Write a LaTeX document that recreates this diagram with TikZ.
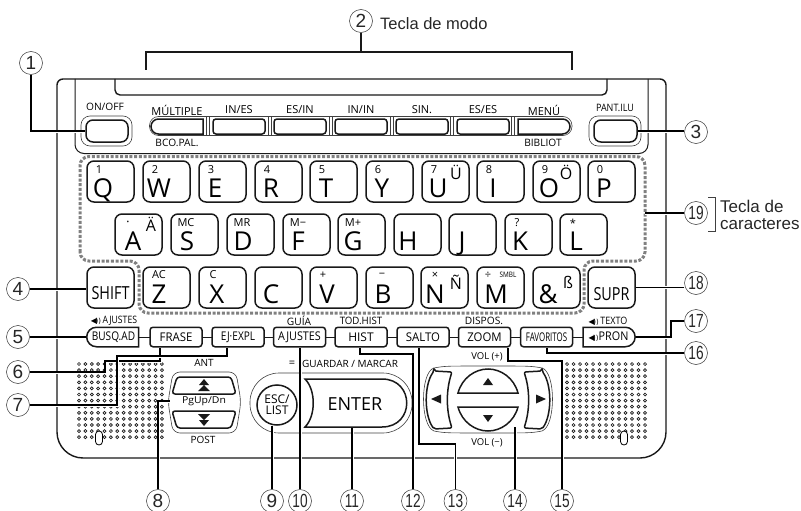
\documentclass[tikz,border=0pt]{standalone}
\usepackage{fontspec}
\usepackage{graphicx}
\setmainfont{Open Sans}
\newfontfamily\labfont{Liberation Sans}
\newfontfamily\spkfont{DejaVu Sans}
\usetikzlibrary{shapes.misc}
\newcommand{\fsz}[1]{\fontsize{#1}{#1}\selectfont}
\newcommand{\nrw}[2]{\scalebox{#1}[1]{#2}}
\newcommand{\spk}{{\spkfont\fsz{8}◀\kern-1.5pt\fsz{7}))}}
\definecolor{inkline}{gray}{0.1}
\definecolor{dashgray}{gray}{0.5}
\tikzset{
  bodyline/.style={line width=1.4pt,draw=inkline},
  thinline/.style={line width=0.6pt,draw=black!75},
  leader/.style={line width=1.3pt,draw=black,preaction={draw=white,line width=3pt}},
  keyshape/.style={line width=1.5pt,draw=inkline,fill=white},
  lkey/.style={keyshape,rounded corners=7pt,minimum width=47pt,minimum height=41pt,inner sep=0pt},
  fkey/.style={keyshape,rounded corners=3pt,minimum width=52pt,minimum height=19.5pt,inner sep=0pt,font=\fsz{12}},
  pillkey/.style={keyshape,rounded rectangle,minimum width=52pt,minimum height=19.5pt,inner sep=0pt,font=\fsz{12}},
  mkey/.style={keyshape,rounded corners=3pt,minimum width=52pt,minimum height=15pt,inner sep=0pt},
  mpill/.style={keyshape,rounded rectangle,minimum width=52pt,minimum height=15pt,inner sep=0pt},
  ltr/.style={anchor=base,inner sep=0pt,font=\fsz{26}},
  sml/.style={inner sep=0pt,font=\fsz{11}},
  xtr/.style={inner sep=0pt,font=\fsz{16}},
  lbl/.style={inner sep=0pt,font=\fsz{11}},
  tinylbl/.style={inner sep=0pt,font=\fsz{10.2}},
  num/.style={circle,draw=black!80,line width=0.5pt,minimum size=23pt,inner sep=0pt,font=\labfont\fsz{19},text=black!85,fill=white},
  dot/.style={line width=0.7pt,draw=inkline},
  slot/.style={fill=white,draw=black,line width=0.8pt,rounded corners=3.5},
  tip/.style={fill=inkline,draw=none},
}
\begin{document}
\begin{tikzpicture}[x=1pt,y=-1pt]
\useasboundingbox (0,0) rectangle (801,511);
%%%%% Body %%%%%
\draw[bodyline,rounded corners=6] (57,110)--(57,79)--(666,79)--(666,100)[rounded corners=26]--(666,458)--(57,458)--cycle;
\draw[bodyline,line width=1pt,rounded corners=9] (75,79)--(75,153.5)--(648,153.5)--(648,79);
\draw[bodyline,rounded corners=5] (115,79)--(115,95)--(607,95)--(607,79);
%%%%% Speakers %%%%%
\foreach \i in {0,...,13}{
\foreach \j in {0,...,12}{
\draw[dot] (79+6.38*\i,364+6.1*\j) circle (1.5);
}
}
\foreach \i in {0,...,12}{
\foreach \j in {0,...,12}{
\draw[dot] (567+6.5*\i,364+6.1*\j) circle (1.5);
}
}
\draw[slot] (95.5,431) rectangle (102.5,445);
\draw[slot] (620.5,431) rectangle (627.5,445);
%%%%% Dashed border %%%%%
\draw[dashgray,line width=3pt,dash pattern=on 3pt off 1.7pt,rounded corners=9] (80,261)--(80,156.5)--(645,156.5)--(645,261)--(584,261)--(584,313)--(139,313)--(139,261)--cycle;
%%%%% Top panel %%%%%
\draw[thinline,rounded corners=9] (149.5,116.5) rectangle (572,135.5);
\foreach \gx in {208,269.5,330.5,391.5,452,513}{
\draw[thinline] (\gx-1.5,117)--(\gx-1.5,135) (\gx+1.5,117)--(\gx+1.5,135);
}
\node[mpill,rounded rectangle east arc=none] (keymult) at (177,126.5) {};
\foreach \kx/\nm in {239/ines,300/esin,361/inin,422/sin,483/eses}{
\node[mkey] (key\nm) at (\kx,126.5) {};
}
\node[mpill,rounded rectangle west arc=none] (keymenu) at (544,126.5) {};
\foreach \kx/\nm/\tx in {177/mult/MÚLTIPLE,239/ines/{IN/ES},300/esin/{ES/IN},361/inin/{IN/IN},422/sin/SIN.,483/eses/{ES/ES},544/menu/MENÚ}{
\node[lbl] (lb\nm) at (\kx,110) {\tx};
}
\node[tinylbl] (lbbco) at (177,142.5) {BCO.PAL.};
\node[tinylbl] (lbbib) at (543,142.5) {BIBLIOT};
\node[tinylbl] (lbonoff) at (105,107) {ON/OFF};
\node[tinylbl] (lbpant) at (615,108) {\nrw{.88}{PANT.ILU}};
\node[thinline,draw,rounded corners=9,minimum width=51pt,minimum height=30pt] (rimonoff) at (106.5,131) {};
\node[keyshape,rounded corners=7,minimum width=42pt,minimum height=22pt,inner sep=0pt] (keyonoff) at (107,131) {};
\node[thinline,draw,rounded corners=9,minimum width=52pt,minimum height=30pt] (rimpant) at (615,131) {};
\node[keyshape,rounded corners=7,minimum width=43pt,minimum height=22pt,inner sep=0pt] (keypant) at (615.5,131) {};
%%%%% Letter keys %%%%%
\foreach \kx/\lt/\sm in {87/Q/1,143/W/2,199/E/3,255/R/4,310/T/5,366/Y/6,422/U/7,477/I/8,533/O/9,588/P/0}{
\node[lkey] (key\lt) at (\kx+23.5,181.5) {};
\node[ltr] (ltr\lt) at (\kx+16,197) {\lt};
\node[sml] (sm\lt) at (\kx+12,170) {\sm};
}
\foreach \kx/\lt/\lx/\sm/\sx in {115/A/133/{\fsz{7}\textbullet}/128,171/S/187/MC/186,227/D/243/MR/242,283/F/298/M−/298,338/G/353/M+/353,394/H/408/{}/408,449/J/462/{}/462,505/K/520/?/517,560/L/576/*/573}{
\node[lkey] (key\lt) at (\kx+23.5,234.5) {};
\node[ltr] (ltr\lt) at (\lx,250) {\lt};
\node[sml] (sm\lt) at (\sx,223) {\sm};
}
\foreach \kx/\nm/\lt/\lx/\sm/\sx in {143/Z/Z/159/AC/159,199/X/X/217/C/213,255/C/C/271/{}/271,310/V/V/327/+/323,366/B/B/383/−/382,421/N/N/435/×/435,477/M/M/496/÷/488,533/amp/\&/548/{}/548}{
\node[lkey] (key\nm) at (\kx+23.5,287.5) {};
\node[ltr] (ltr\nm) at (\lx,303) {\lt};
\node[sml] (sm\nm) at (\sx,275) {\sm};
}
\foreach \xx/\yy/\nm/\tx in {456/172/U/Ü,566/172/O/Ö,151/224/A/Ä,456/282/N/Ñ,568/282/amp/ß}{
\node[xtr] (xt\nm) at (\xx,\yy) {\tx};
}
\node[inner sep=0pt,font=\fsz{7.5}] (smsmbl) at (508,275) {\nrw{.85}{SMBL}};
\node[lkey,font=\fsz{18}] (keyshift) at (110.5,287.5) {};
\node[anchor=base,inner sep=0pt,font=\fsz{18}] (ltrshift) at (110.5,299.5) {\nrw{.8}{SHIFT}};
\node[lkey] (keysupr) at (611.5,287.5) {};
\node[anchor=base,inner sep=0pt,font=\fsz{18}] (ltrsupr) at (611.5,300) {\nrw{.8}{SUPR}};
%%%%% Function keys %%%%%
\draw[bodyline,line width=1pt] (100,337)--(620,337);
\node[pillkey,rounded rectangle east arc=none,font=\fsz{12}] (keybusq) at (113.5,337) {\nrw{.84}{BUSQ.AD}};
\node[fkey] (keyfrase) at (176,337) {\nrw{.95}{FRASE}};
\node[fkey] (keyej) at (238,337) {\nrw{.84}{EJ·EXPL}};
\node[fkey] (keyajustes) at (299.5,337) {\nrw{.9}{AJUSTES}};
\node[fkey] (keyhist) at (361,337) {HIST};
\node[fkey] (keysalto) at (423,337) {\nrw{.95}{SALTO}};
\node[fkey] (keyzoom) at (484.5,337) {\nrw{.95}{ZOOM}};
\node[fkey] (keyfav) at (546.5,337) {\nrw{.66}{FAVORITOS}};
\node[pillkey,rounded rectangle west arc=none] (keypron) at (608.5,337) {\spk\nrw{.9}{PRON}};
\node[tinylbl] (lbajustes) at (114,321) {\spk\,\nrw{.85}{AJUSTES}};
\node[tinylbl] (lbguia) at (299,321) {GUÍA};
\node[tinylbl] (lbtod) at (361,321) {\nrw{.95}{TOD.HIST}};
\node[tinylbl] (lbdispos) at (484,321) {DISPOS.};
\node[tinylbl] (lbtexto) at (608,321) {\spk\,\nrw{.88}{TEXTO}};
%%%%% PgUp/Dn %%%%%
\draw[thinline,rounded corners=7] (173,372)--(236,372)--(241,402)--(236,433)--(173,433)--(168,402)--cycle;
\draw[keyshape,rounded corners=3] (177,377)--(231,377)--(236,394)--(172,394)--cycle;
\draw[keyshape,rounded corners=3] (172,411)--(236,411)--(231,428)--(177,428)--cycle;
\fill[tip] (204,379)--(199,385)--(209,385)--cycle (204,385)--(198,391)--(210,391)--cycle;
\fill[tip] (204,426)--(199,420)--(209,420)--cycle (204,420)--(198,414)--(210,414)--cycle;
\node[inner sep=0pt,fill=white,font=\fsz{9.5}] (lbpgup) at (204,401) {\nrw{1.1}{PgUp/Dn}};
\node[inner sep=0pt,font=\fsz{10}] (lbant) at (204,363) {ANT};
\node[inner sep=0pt,font=\fsz{10}] (lbpost) at (203,440) {POST};
%%%%% ESC and ENTER %%%%%
\node[thinline,draw,rounded corners=29,minimum width=162pt,minimum height=60pt] (rimenter) at (331,403) {};
\draw[keyshape] (305,379) .. controls (316,390) and (316,416) .. (305,427) -- (382,427) .. controls (415,427) and (415,379) .. (382,379) -- cycle;
\node[keyshape,circle,minimum size=40pt,inner sep=0pt,font=\fsz{12},align=center] (keyesc) at (277,405) {ESC/\\[-1pt]LIST};
\node[inner sep=0pt,font=\fsz{18}] (keyenter) at (355,404) {ENTER};
\node[inner sep=0pt,font=\fsz{11}] (lbigual) at (292,364) {=};
\node[inner sep=0pt,anchor=west,font=\fsz{10}] (lbguardar) at (302,364) {GUARDAR / MARCAR};
%%%%% Direction pad %%%%%
\draw[thinline] (434,368) .. controls (445,366) .. (488,366) .. controls (531,366) .. (542,368) .. controls (556,372) and (556,426) .. (542,431) .. controls (531,433) .. (488,433) .. controls (445,433) .. (434,431) .. controls (420,426) and (420,372) .. (434,368) -- cycle;
\draw[keyshape,rounded corners=2] (434,371) -- (452,372) .. controls (446,390) and (446,410) .. (452,428) -- (434,429) .. controls (424,415) and (424,385) .. (434,371) -- cycle;
\draw[keyshape,rounded corners=2] (542,371) -- (524,372) .. controls (530,390) and (530,410) .. (524,428) -- (542,429) .. controls (552,415) and (552,385) .. (542,371) -- cycle;
\draw[keyshape] (458,393) .. controls (462,378) and (475,369) .. (488,369) .. controls (501,369) and (514,378) .. (518,393) -- cycle;
\draw[keyshape] (458,407) .. controls (462,422) and (475,431) .. (488,431) .. controls (501,431) and (514,422) .. (518,407) -- cycle;
\fill[tip] (488,378)--(483,385)--(493,385)--cycle;
\fill[tip] (488,422)--(483,415)--(493,415)--cycle;
\fill[tip] (431,399)--(441,394.5)--(441,403.5)--cycle;
\fill[tip] (546,399)--(536,394.5)--(536,403.5)--cycle;
\node[inner sep=0pt,font=\fsz{9.5}] (lbvolup) at (487,357) {VOL (+)};
\node[inner sep=0pt,font=\fsz{9.5}] (lbvoldn) at (487,443) {VOL (−)};
%%%%% Callouts %%%%%
\foreach \cx/\cy/\nm/\tx in {31/63/c1/1,361/21/c2/2,696/132/c3/3,18/289/c4/4,18/337/c5/5,18/372/c6/6,18/405/c7/7,158/501/c8/8,272/501/c9/9}{
\node[num] (\nm) at (\cx,\cy) {\tx};
}
\foreach \cx/\cy/\nm/\tx in {300/501/c10/10,352/501/c11/11,413/501/c12/12,455.5/501/c13/13,515/501/c14/14,562/501/c15/15,696/353/c16/16,696/321/c17/17,696/283/c18/18,696/213/c19/19}{
\node[num] (\nm) at (\cx,\cy) {\nrw{.72}{\tx}};
}
\node[inner sep=0pt,anchor=west,font=\labfont\fsz{16.5},text=black!85] (lbmodo) at (380,24) {Tecla de modo};
\node[inner sep=0pt,anchor=west,font=\labfont\fsz{17},text=black!85,align=left] (lbcar) at (720,215) {Tecla de\\[-0.5pt]caracteres};
\coordinate (brL) at (146,70);
\coordinate (brR) at (572,70);
\coordinate (brU) at (708,197);
\coordinate (brD) at (708,231);
\draw[bodyline] (brL)--(146,52)--(572,52)--(brR);
\draw[bodyline] (c2.south)--(361,52);
\draw[thinline] (brU)--(715,197)--(715,231)--(brD);
\draw[leader] (c1.south)--(c1.south |- keyonoff.west)--(keyonoff.west);
\draw[leader] (keypant.east)--(c3.west |- keypant.east);
\draw[leader] (c4.east)--(c4.east -| keyshift.west);
\draw[leader] (c5.east)--(c5.east -| keybusq.west);
\draw[leader] (c6.east)--(105,372)--(105,361)--(160,361)--(160,361 |- keyfrase.south);
\draw[leader] (c7.east)--(117,405)--(117,356)--(227,356)--(227,356 |- keyej.south);
\draw[leader] (c8.north)--(158,401)--(170,401);
\draw[leader] (c9.north)--(c9.north |- keyesc.south);
\draw[leader] (c10.north)--(c10.north |- keyajustes.south);
\draw[leader] (c11.north)--(352,427.5);
\draw[leader] (c12.north)--(413,354)--(360,354)--(360,354 |- keyhist.south);
\draw[leader] (c13.north)--(455.5,444)--(419,444)--(419,444 |- keysalto.south);
\draw[leader] (c14.north)--(515,427);
\draw[leader] (c15.north)--(562,361)--(508,361)--(508,361 |- keyzoom.south);
\draw[leader] (c16.west)--(547,353)--(547,353 |- keyfav.south);
\draw[leader] (c17.west)--(671,321)--(671,337)--(keypron.east);
\draw[leader] (c18.west |- keysupr.east)--(keysupr.east);
\draw[leader] (c19.west)--(645,213);
\end{tikzpicture}
\end{document}
